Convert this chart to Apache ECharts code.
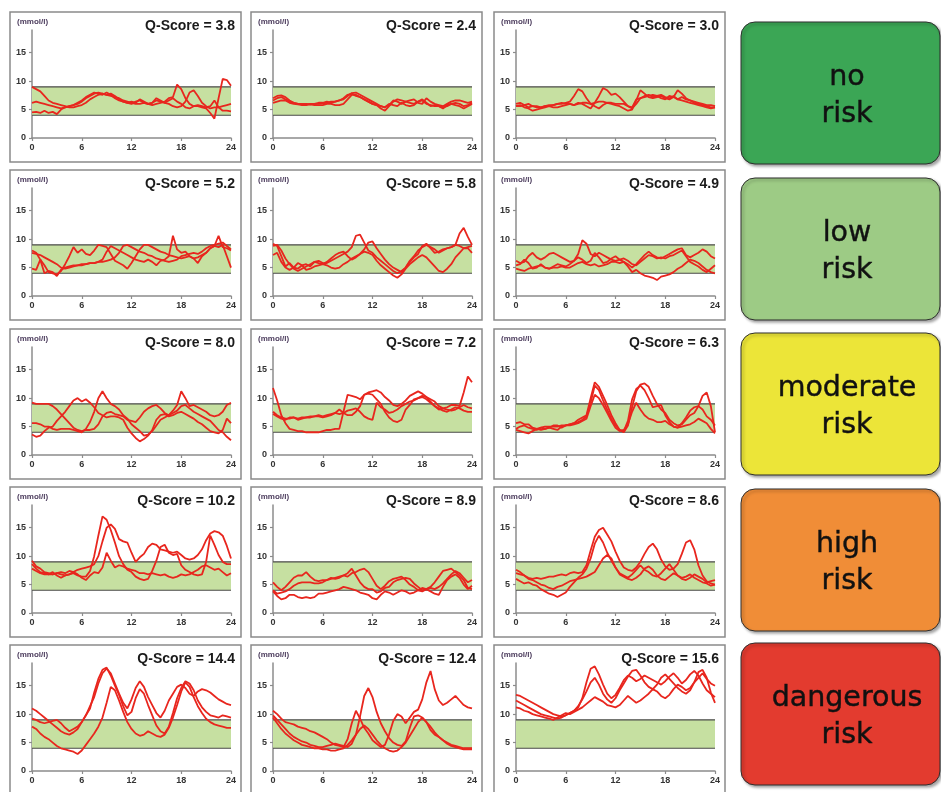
<!DOCTYPE html>
<html><head><meta charset="utf-8">
<script src="https://cdn.jsdelivr.net/npm/echarts@6/dist/echarts.min.js"></script>
<style>html,body{margin:0;padding:0;background:#fff}#c{width:941px;height:792px}</style>
</head><body><div id="c"></div>
<script>
// ---- data: glucose (mmol/l), samples evenly spread over 0-24 h ----
const qScores = ['3.8','2.4','3.0','5.2','5.8','4.9','8.0','7.2','6.3','10.2','8.9','8.6','14.4','12.4','15.6'];
const riskLabels = ['no\nrisk','low\nrisk','moderate\nrisk','high\nrisk','dangerous\nrisk'];
const targetRange = [4, 9];
const xTicks = [0, 6, 12, 18, 24];
const yTicks = [0, 5, 10, 15];

const q38a = [9,8.6,8.2,7.4,6.6,6.2,6,5.8,5.6,5.4,5.4,5.6,5.8,6.2,6.8,7.2,7.6,7.8,7.6,7.4,7.2,7,6.6,6.4,6.2,6,6,6.2,6,5.8,6,6.2,6.4,7,7.2,9.4,8.6,7,6,5.6,5.6,5.4,5.2,4.4,3.4,7,10.4,10.2,9.2];
const q38b = [6.2,6.4,6.2,6,5.8,5.6,5.4,5.2,5.4,5.6,5.8,6,6.4,7,7.4,7.8,8,7.8,7.6,7.8,7.4,6.8,6.4,6.2,6.4,6.2,6.8,6.4,6,6.2,6.6,6.4,6.2,6,5.6,5.4,5.6,6.4,8,8.4,7.4,6.2,5.6,5.2,5.4,5.4,5.6,5.8,6];
const q38c = [4.5,4.6,4.4,4.8,4.4,4.6,4.2,5,5.4,5.6,5.8,6.2,6.6,7.2,7.6,8,7.8,7.6,8,7.6,7,6.6,6.4,6.2,6,6.4,6.6,6.2,6,6.2,7,6.6,6.2,6.6,7,6.4,6,5.4,5.2,5.6,5.8,5.6,5.4,5.6,6.6,5.4,4.8,4.8,4.7];

const q24a = [7,7.4,7.5,7.2,6.6,6.2,6,6,6,5.9,6,6,6.1,6.2,6.4,6.4,6.6,6.8,7.4,7.9,8,7.6,7.2,6.8,6.4,6,5.6,5.4,5.8,6.6,6.4,6,6.4,6.6,6.8,6.2,6,7,6.4,6,5.8,5.6,6,6.4,6.6,6.6,6.4,6.2,6.4];
const q24b = [6.6,7,7.2,6.8,6.4,6.2,6,5.9,5.9,6,6,6.2,6.2,6.4,6.2,6.4,6.6,7,7.6,7.8,7.4,7.2,6.8,6.4,6,5.8,5.2,4.8,5.6,6.4,6.8,6.6,6.4,6.2,6,6.4,6.8,6.2,5.6,5.8,5.6,5.2,5.8,6,6.2,6,5.6,5.8,6.2];
const q24c = [6.2,6.4,6.6,6.6,6.2,6,5.9,5.8,5.8,5.9,5.8,5.8,5.8,6,6,5.8,5.8,6,6.8,7.6,7.6,7.2,6.8,6.4,6,5.8,5.6,5.4,6,5.8,5.6,6.2,5.8,5.6,5.8,6.4,6.6,6,5.8,5.6,5.6,5.4,5.6,6,5.8,5.6,5.2,5.6,6];

const q30a = [6,6.2,5.8,6,5.6,5.4,5.4,5.6,5.6,5.8,6,6,6.2,6.4,7.4,8.6,8.2,7,6,5.6,5.2,5.8,6.2,6,5.8,5.6,5.2,4.8,5,6.6,8.4,7.8,7.2,7,7.2,7.4,7,6.8,7.2,8.4,7.8,7,6.6,6.2,6,5.8,5.6,5.4,5.4];
const q30b = [5.6,5.8,5.4,5.2,4.8,5,5.2,5.4,5.6,5.4,5.4,5.6,5.8,6,5.8,6.2,6,5.6,5.2,6.2,7.4,8.8,8.4,7.6,7.8,7.2,6.4,5.6,5.2,6,7,7.4,7.6,7.2,7.4,7,6.8,7.4,7.2,6.8,6.6,6.4,6.2,6,5.8,5.6,5.4,5.2,5.4];
const q30c = [5.6,5.6,5.8,5.4,5.6,5.6,5.4,5.6,5.8,5.8,6,6.2,6,6,5.8,6,6.2,6.2,6,6.2,6.4,6.4,6.2,6.2,6,6,6,5.6,5.4,6.8,7,7.2,7.4,7.6,7.4,7.6,7.2,7,7.4,6.8,7.2,6.8,6.6,6.4,6.2,6,5.8,5.8,5.6];

const q52a = [8,7.6,6.4,5.4,4.2,4,3.8,4.4,5.6,7,8.6,7.6,8.2,7.4,7.2,8,9,8.8,8.6,7.4,6.2,5.8,5.4,4.8,5.8,7,8.2,9,9,8.6,8.2,7.8,7.6,7.2,7,6.8,6.6,6.8,7,6.6,5.8,7,7.6,8.4,8.8,8.6,9,7,5];
const q52b = [7.6,7.4,7.2,6.8,6.4,6,5.6,5,4.8,5,5.2,5.4,5.6,5.6,5.8,5.8,6,6,6.2,6.4,6.8,7.6,8.8,9,8.6,8.2,7.8,7.6,7.2,7,6.6,6.4,6.2,6,6.2,6.4,7,7.2,7.4,7.6,7.4,7.8,8.4,8.8,9,9.2,9.4,8.8,8.2];
const q52c = [4.8,4.6,6.4,4,4.4,4.2,3.5,4.6,5,5.2,5.4,5.4,5.4,5.6,5.8,5.8,6,6.4,7.8,8.8,8.4,8,7.6,7.2,6.8,6.4,6.2,6,6.4,6,5.4,6.2,6.4,7,10.6,8.2,7.6,7.8,7,6.6,6.8,7.2,7.6,8.4,8.8,10.6,8.6,8.4,8];

const q58a = [9.2,8.8,7,5.2,5.8,5,4.8,5.4,5.6,5.2,6,6.2,5.8,5.8,6.2,6.6,7,7.4,7.8,8.6,10.6,10.8,9.4,8,7.6,6.8,6.2,5.6,5,4.4,4,4.4,5,6,6.8,7.4,8.8,9.2,8.4,7.6,7.8,8.2,8.4,8.6,9,11,12,10.4,9];
const q58b = [8.8,9,8,6.6,5.6,4.8,4.4,4.8,5.2,5.6,6,5.8,5.6,6,6.6,7.2,7.6,7.8,7,6.4,6.8,7.4,8.2,9.4,9.6,8.4,7.4,6.4,5.6,5,4.6,4.2,5,6.2,7,8,8.6,9,8.6,8.2,7.6,8,8.4,8.6,9,8.8,8.4,8.6,8.8];
const q58c = [7.2,7.6,6,5,4.6,5,5.8,5.4,4.6,4.8,5.2,5.4,5.6,5.4,5,4.8,5,5.6,6,6.6,7,7.4,7.8,7.6,7.2,6.2,5.4,4.8,4.2,3.6,3.2,3.8,4.8,5.6,6.2,6.8,7.2,6.8,6,5.2,4.4,4.2,4.8,5.6,6.8,7.6,8.4,8.4,7.6];

const q49a = [6.2,5.8,6,7,7.6,6.8,6.4,6.8,7.4,7.6,7.2,6.8,6.4,6,6.2,7.4,9.8,9.2,7.4,7,7.6,7.2,6.8,6.4,6.2,6.4,6,5.6,5,5.6,6.4,7.2,7.8,7.2,6.8,6.6,7,7.4,7.8,8.2,8.4,7.2,6.8,7.2,7.6,8.2,7.8,7,6.6];
const q49b = [5.4,5.6,6.4,5.8,4.8,5,5.6,5,4.8,5.2,5.6,5.4,5.2,5.6,6.2,6.8,6.4,5.8,6.2,7.6,6.8,5.8,6,6.6,7,6.4,6.6,6.2,5.6,5.4,6,6.6,7.2,7,6.6,6.8,6.6,7,7.2,7.6,8,7,6,5.6,5.2,4.6,4.2,4.8,5.4];
const q49c = [4.8,4.6,4.4,4.8,5,5.2,5.4,5,4.8,5,5,5.2,5,5,5.4,5.8,6,5.6,5.4,5.6,5.2,5.4,5.6,6,6,5.8,6,5.2,4.2,4.6,4,3.6,3.4,3.2,2.8,3.4,3.6,3.8,4.2,4.8,5.2,5.8,6.4,6.2,5.8,5.2,4.6,4.2,4];

const q80a = [9.2,9,9,9,9,8.6,8,7.2,6.4,5.6,4.8,4.4,4.2,4.4,4.4,4.6,5.4,6.8,7.4,7.6,7.2,7,6.8,6.2,6,5.8,6.6,7.6,8.2,8.6,8.8,8.2,7.4,7,7.4,7.8,8.6,8.8,8.2,7.6,7.2,6.8,6.4,6,5.2,4.4,4,3.2,2.6];
const q80b = [5.6,5.6,5.4,5,5,4.6,4.4,4.6,4.6,4.6,4.4,4.2,4,4.6,5.8,7.6,10,11.2,10,9,8.6,8,7,6.4,5.4,4.8,4.2,3.4,3.6,4.2,5.2,6.2,6.6,7,7.8,8.8,11.2,10,8.6,8.8,8.4,8,7.6,7,6.8,7,7.6,8.8,9.2];
const q80c = [3.6,3.2,3.4,4.2,4.8,5,6,6.8,7.6,8.6,9.6,10,9.4,9.8,9.2,8.4,7.4,7,6.6,6.8,6.8,6.6,6.2,4.8,3.8,3,2.4,2.8,3.4,4.4,6.2,7,7.2,6.8,7,7.4,7.6,7.2,6.8,6.4,5.8,5.4,4.8,4.2,4,3.8,4.4,6.4,5.6];

const q72a = [11.8,9.6,7,5.6,4.6,4.4,4.2,4.2,4,4,4,4,4.2,4.4,4.4,4.6,4.6,7.6,10.6,10.4,10.2,9.8,10.6,11,11.2,11.4,11,10.2,9.6,8.8,8.6,9,9.6,10.4,10.8,11.2,10.8,10.2,9.4,8.6,8,8.2,8.4,8.8,8.8,8.6,11,13.8,12.8];
const q72b = [7.6,7,6.6,6.4,6.4,6.6,6.4,6.6,6.6,6.8,6.8,6.8,6.6,6.8,7,7.4,8,7.4,7,7,7.6,8.6,10.6,10.8,10.6,9.8,9,7.6,6.6,6,5.8,6.2,8,8.8,9.8,10,10.4,10.2,9.8,9.4,8.6,8.2,8,7.8,8,8.4,8.8,8.4,8.2];
const q72c = [7.2,6.8,6.4,6.2,6.6,6.6,6.2,6.4,6.6,6.6,6.8,7,6.8,7,7.2,7.4,7.2,7.4,7.8,8,8.2,7.6,6.8,6.4,6.2,9.2,8.4,8,7.4,7.6,8,8.6,9,9.4,9.6,10,10.2,9.8,9.2,8.6,8.2,7.8,7.6,8,8.4,8.2,7.8,7.6,7.6];

const q63a = [5.6,5.8,5.4,5.4,4.8,4.6,4.8,5,5,5,5,5.2,5.2,5.4,5.6,6.2,6.6,7,10,12.8,12,10.4,8.8,7,5.6,4.4,4,5.2,8.4,11.2,12.4,12.6,12,10.4,9,8,7.4,6.2,5.6,5.2,5.4,6.2,7,7.4,8.6,8,6.8,6.2,5.2];
const q63b = [4.6,5,5.2,4.8,4.6,4.4,4.8,4.6,4.8,5.2,5.2,4.8,5.2,5.4,5.6,5.8,6.2,6.8,9.2,12.2,11.4,9.6,8,6.4,5.2,4.4,4.2,6,9.8,11.6,12.2,11.4,10,8.4,8.6,8.8,7,5.8,5,4.8,5.6,6.6,7.8,8.4,8.6,10.4,11,8.6,4];
const q63c = [4.4,4.2,4,3.8,4.2,4.6,4.4,4.6,4.8,4.6,4.4,5,5.2,5.2,5.4,5.6,6,6.4,8.6,10.6,10,8.8,7.4,6,4.8,4.2,4.4,5.4,7.6,9.2,8,7,6.4,6.2,5.8,5.8,6,5.4,5,4.8,5,5.2,5.4,5.8,6.4,6,5.6,4.6,3.8];

const q102a = [9.2,8.2,7.8,7.2,7,6.8,7,6.8,6.6,6.8,7,6.6,6.4,6.4,7.4,10,13.6,17,16.4,14.6,12.4,10,8.6,7.6,7.2,6.4,6,5.8,6,7.4,9.2,11.6,12,10.6,10.2,10.4,8.4,7.6,7.2,6.8,6.6,6.8,9,13.6,12,10.2,9,8.6,8.6];
const q102b = [8.6,7.8,7.2,7,6.8,6.8,7,7.2,7,7.4,7.2,7.6,7.8,8,8.2,8.6,10,12.6,15,15.6,14.8,13,12.6,12.4,10.6,9,9.8,10.4,11.6,12.2,12,11.2,11,10.8,10.6,10.8,10.2,9.6,9.4,9.6,10.2,11.2,12.8,14,14.4,14.2,13.6,11.8,9.6];
const q102c = [7.8,7.4,7,6.8,6.8,7.2,6.6,6.2,6.6,6.8,7.2,6.8,6.2,5.8,6.6,7.2,7,8,10.6,9.2,8,8.4,8.2,7.8,7.6,7.4,7,7,6.8,7,6.8,6.6,6.8,6.4,6.2,6.4,6.8,6.6,6.8,7.2,7.6,8.2,8.4,8,7.6,7.8,7.2,6.6,7];

const q89a = [5.4,4.6,4,4.6,5.4,6.2,6.6,6.6,7.2,6.4,5.8,5.6,5.8,5.8,6.2,6,6.2,6.6,6.4,7,7.2,7.6,7.8,7.2,6,4.8,4.2,4.8,5.6,6,6.2,6.4,5.8,5,4.6,4,3.8,4.2,4.6,5.4,6.4,7.4,7.6,7.8,7.2,6.6,5.8,4.4,4.2];
const q89b = [4,3.4,3.6,3.8,4.2,4.8,5.2,5.4,5.4,5.4,5.2,5.2,5.4,5.8,6,6.2,6.4,6.6,7,7.8,6.6,5.4,4.6,4.2,4.2,3.6,3.8,4.4,4.6,5.4,5.8,6,6.2,6,5.2,4.6,4,4.2,4.4,4.2,4.6,5.2,6,6.8,7.4,7,6.2,5.4,5.8];
const q89c = [3.8,3,2.4,2.6,3.2,3.2,2.8,2.6,2.8,2.6,2.8,3.4,3.4,3.6,3.8,4,4.2,4.6,4.4,4.2,4,3.6,3.4,3.2,2.6,2.4,3.2,3.8,3.6,3.2,3.6,4,3.8,3.4,3.6,4,4.4,4.2,3.8,3.4,3.2,4.6,5.8,6.4,6.8,6.2,5,4.2,4.8];

const q86a = [7,6.8,6.6,6.2,6,6.2,6,6.2,6.4,6.4,6.6,6.8,6.6,7,7.2,7,7.2,8.4,11,13.4,14.6,15,13.8,12.6,10.8,9.2,8,7.6,7.4,8,9,10.4,11.6,12.2,11.2,9.4,8.2,7.6,7.8,8.6,10.4,12.4,12.8,11.2,8.4,6.6,5.6,5.2,5];
const q86b = [6,5.6,5.2,5.4,5,4.8,4.2,3.8,3.4,3.2,2.8,3.2,3.6,4.6,5.4,6.2,6.8,7.8,9.6,12.2,13.6,12.4,10.6,9.2,8,7,6.6,6.2,6.8,7.6,8.4,7.6,7.2,6.6,6.4,7,7.8,8.6,7.6,6.6,6.2,6.4,6.8,6.2,5.8,5.4,5.2,4.8,5];
const q86c = [7.6,7.2,6.6,6,5.8,5.4,5,4.8,4.4,4.2,4.6,4.8,5.2,5.6,5.8,6,6.2,6.4,6.8,7.2,8.4,9.6,10.2,9.6,8,6.8,6.4,6,5.8,6.2,6.8,7.8,8.2,7.6,6.6,6,5.8,6.4,7,6.6,6,5.8,6.2,6.8,6.4,6,5.4,5.6,5.8];

const q144a = [11,10.6,10,9.4,8.8,8.2,7.6,7,6.6,6.4,6.8,7.4,8.6,9.8,11.4,13,15.4,17.2,18,17.2,15.4,13.6,12,11,12.6,14.6,15.8,14.8,13,11.6,10.2,9.4,10.6,12.4,13.6,14.8,15.2,14.6,13.6,13.2,14,14.4,14.2,13.8,13.2,12.6,12.2,11.8,11.6];
const q144b = [9.2,9,8.6,8.4,8.6,8.8,9,8.4,7.6,7,7.4,7.8,8.6,9.8,11,13.8,16.2,17.8,18.2,16.8,15,13.4,11.4,9.8,10.4,12.8,14.4,13.6,11.6,9.8,8,7,6.6,7.8,10.2,12.8,14.6,15.8,15.4,14.2,12.4,11.2,10.4,9.8,9.6,9.4,9.8,9.6,9.4];
const q144c = [7.8,7.4,6.6,6,5.6,5,4.4,4,3.8,3.6,3.4,3,3.6,4.6,5.6,6.6,7.8,9.4,12,14.8,14.2,12.4,10.4,8.6,7.4,6.6,6.2,6.4,7,6.6,6.2,6,6.4,7.6,9.4,11.6,14,15.6,14.8,13,11.4,10.2,9.2,8.6,8.2,8,7.8,7.6,7.6];

const q124a = [10.6,10,9.2,8.6,8.4,8.2,7.8,7.6,7.4,7,6.8,6.4,6,5.6,5,4.6,4.4,4.2,5.6,8.4,10.6,9.2,7.6,6.6,5.4,4.8,4.2,4.6,6.4,8.8,10,9.6,8.4,9.4,10.4,10.8,12.6,15.6,17.6,14.4,12.4,11.6,12,12.6,13.2,12.4,11.6,11.2,11];
const q124b = [9.8,9,8.2,7.4,6.6,6,5.6,5.2,5,4.6,4.4,4.2,4.2,4.4,4.6,4.8,4.6,4.4,4.2,4.8,6.4,9.6,13.2,14.6,13,10.4,8.4,7,5.8,5,4.6,4.4,5.2,7.6,9.6,9.8,9.4,8.6,7.2,6.4,6,5.4,5,4.6,4.4,4.2,4,4,4];
const q124c = [9.4,8.4,7.4,6.6,6,5.4,5,4.6,4.4,4.2,4,4,3.8,3.8,3.6,3.6,3.8,4,4.6,5.4,6.4,7.4,8,7.4,6.4,5.4,4.6,4,3.6,3.4,3.6,4.2,5,6.2,7.4,8.6,9.4,8.6,7.8,6.8,6,5.4,4.8,4.4,4.2,4,3.8,3.8,3.8];

const q156a = [13.4,13.2,12.8,12.4,12,11.6,11.2,10.8,10.4,10,9.8,9.6,9.8,10.2,10.6,11.2,12.8,15.6,18,18.4,17,15.2,13.6,12.8,13.4,14.6,16,16.8,16.4,15.8,16.2,16.8,16.4,16,15.6,15.2,15.8,16.6,17.2,16.4,15.4,16,17,17.6,16.8,15.4,14.2,13.6,13];
const q156b = [12.4,12,11.6,11.2,10.8,10.4,10,9.8,9.6,9.4,9.2,9.4,9.8,10.2,10.6,11.4,12.6,14,15.6,16.4,15.2,13.6,12.6,12,12.8,14.2,15.4,16.6,17.6,17.8,16.8,15.6,14.8,14.4,15.2,16.4,17,16.2,15.4,14.6,14,13.6,14.2,15.6,17.4,17.8,16.4,13.8,12];
const q156c = [11.2,11,10.6,10.4,10,9.8,9.6,9.4,9.2,9,9.4,9.8,10.2,10,10.4,10.8,11.2,11.8,12.4,13,12.6,12.2,11.6,11.4,11.2,11.6,12.4,13.2,12.6,12,12.4,13,13.6,14.4,14,13.2,12.8,13.4,14.4,15.2,14.8,14.2,14.6,15.6,16.4,17.2,16.2,15.4,15];

const panels = [
  [q38a,q38b,q38c],[q24a,q24b,q24c],[q30a,q30b,q30c],
  [q52a,q52b,q52c],[q58a,q58b,q58c],[q49a,q49b,q49c],
  [q80a,q80b,q80c],[q72a,q72b,q72c],[q63a,q63b,q63c],
  [q102a,q102b,q102c],[q89a,q89b,q89c],[q86a,q86b,q86c],
  [q144a,q144b,q144c],[q124a,q124b,q124c],[q156a,q156b,q156c]
];

// ---- layout / styling ----
const boxLeft = [10, 251, 494];
const boxTop = [12, 170, 329, 487, 645];
const BOX_W = 231, BOX_H = 150;
const riskColors = ['#3ba655','#9dcb85','#ece538','#f08d37','#e33b2f'];
const riskTops = [22, 178, 333, 489, 643];
const LINE = '#e8261e', AX = '#8c8c8c', LAB = '#333333';
const FONT = '"Liberation Sans", Arial, sans-serif';

const grids = [], xAxes = [], yAxes = [], series = [], graphics = [];
panels.forEach((lines, k) => {
  const r = Math.floor(k / 3), c = k % 3;
  const bl = boxLeft[c], bt = boxTop[r];
  graphics.push({type:'rect', z:-5, shape:{x:bl, y:bt, width:BOX_W, height:BOX_H},
    style:{fill:'#ffffff', stroke:'#8a8a8a', lineWidth:1.5}});
  graphics.push({type:'text', x:bl+7, y:bt+10, z:5,
    style:{text:'(mmol/l)', font:'bold 8px ' + FONT, fill:'#4b3b5c', verticalAlign:'middle'}});
  graphics.push({type:'text', x:bl+225, y:bt+14, z:5,
    style:{text:'Q-Score = ' + qScores[k], font:'bold 14px ' + FONT, fill:'#1a1a1a', align:'right', verticalAlign:'middle'}});
  grids.push({left: bl+22, top: bt+18, width: 199, height: 108});
  xAxes.push({type:'value', gridIndex:k, min:0, max:24, interval:6,
    axisLine:{show:true, onZero:false, lineStyle:{color:AX, width:1.5}},
    axisTick:{show:true, length:3, lineStyle:{color:AX, width:1.2}},
    axisLabel:{color:LAB, fontSize:9, fontWeight:'bold', fontFamily:FONT, margin:5},
    splitLine:{show:false}});
  yAxes.push({type:'value', gridIndex:k, min:0, max:19,
    axisLine:{show:true, lineStyle:{color:AX, width:1.5}},
    axisTick:{show:true, length:3, customValues:yTicks, lineStyle:{color:AX, width:1.2}},
    axisLabel:{customValues:yTicks, color:LAB, fontSize:9, fontWeight:'bold', fontFamily:FONT, margin:6,
      formatter: v => (yTicks.indexOf(v) >= 0 ? String(v) : '')},
    splitLine:{show:false}});
  // target band
  series.push({type:'line', xAxisIndex:k, yAxisIndex:k, z:1, silent:true, showSymbol:false,
    data:[[0,targetRange[0]],[24,targetRange[0]]], lineStyle:{color:'#4a4a4a', width:1.2},
    markArea:{silent:true, itemStyle:{color:'#c6e0a1', opacity:1},
      data:[[{yAxis:targetRange[0]},{yAxis:targetRange[1]}]]}});
  series.push({type:'line', xAxisIndex:k, yAxisIndex:k, z:1, silent:true, showSymbol:false,
    data:[[0,targetRange[1]],[24,targetRange[1]]], lineStyle:{color:'#4a4a4a', width:1.2}});
  lines.forEach(arr => {
    series.push({type:'line', xAxisIndex:k, yAxisIndex:k, z:3, showSymbol:false, silent:true,
      data: arr.map((v, i) => [i * 24 / (arr.length - 1), v]),
      lineStyle:{color:LINE, width:1.8}});
  });
});

riskLabels.forEach((t, i) => {
  graphics.push({type:'rect', z:-5, shape:{x:741, y:riskTops[i], width:199, height:142, r:14},
    style:{fill:riskColors[i], stroke:'#2e2e2e', lineWidth:1,
      shadowBlur:3, shadowOffsetX:2, shadowOffsetY:2, shadowColor:'rgba(0,0,0,0.35)'}});
  graphics.push({type:'text', x:847, y:riskTops[i]+74, z:5,
    style:{text:t, font:'28.5px "DejaVu Sans", Verdana, sans-serif', fill:'#111111',
      align:'center', verticalAlign:'middle', lineHeight:37,
      stroke:'#111111', lineWidth:0.4}});
});

const chart = echarts.init(document.getElementById('c'), null, {renderer:'canvas'});
chart.setOption({
  animation:false,
  backgroundColor:'#ffffff',
  grid:grids, xAxis:xAxes, yAxis:yAxes, series:series,
  graphic:graphics
});
</script>
</body></html>
